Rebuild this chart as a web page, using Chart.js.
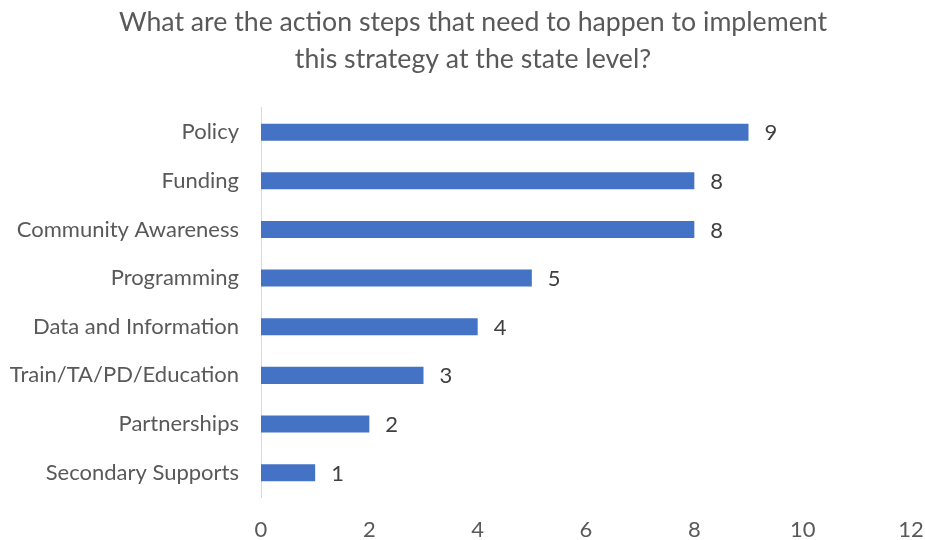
<!DOCTYPE html>
<html>
<head>
<meta charset="utf-8">
<script src="https://cdn.jsdelivr.net/npm/chart.js@4"></script>
<style>
  html, body { margin: 0; padding: 0; background: #ffffff; }
  #wrap { width: 925px; height: 540px; }
</style>
</head>
<body>
<div id="wrap"><canvas id="chart" width="925" height="540"></canvas></div>
<script>
const categories = [
  'Policy',
  'Funding',
  'Community Awareness',
  'Programming',
  'Data and Information',
  'Train/TA/PD/Education',
  'Partnerships',
  'Secondary Supports'
];
const counts = [9, 8, 8, 5, 4, 3, 2, 1];
const titleLines = [
  'What are the action steps that need to happen to implement',
  'this strategy at the state level?'
];
const xMin = 0, xMax = 12, xStep = 2;

const FONT = 'Lato, "Open Sans", sans-serif';

// Writes each bar's value just past its end
const valueLabels = {
  id: 'valueLabels',
  afterDatasetsDraw(chart) {
    const ctx = chart.ctx;
    const meta = chart.getDatasetMeta(0);
    ctx.save();
    ctx.font = '22px ' + FONT;
    ctx.fillStyle = '#404040';
    ctx.textAlign = 'left';
    ctx.textBaseline = 'middle';
    meta.data.forEach((bar, i) => {
      ctx.fillText(String(counts[i]), bar.x + 16, bar.y + 1);
    });
    ctx.restore();
  }
};

// Centres the title over the span from just left of the labels to the canvas edge
const titleSpan = {
  id: 'titleSpan',
  afterLayout(chart) {
    if (chart.titleBlock) {
      chart.titleBlock.left = 21;
      chart.titleBlock.right = chart.width;
    }
  }
};

new Chart(document.getElementById('chart'), {
  type: 'bar',
  data: {
    labels: categories,
    datasets: [{
      data: counts,
      backgroundColor: '#4472C4',
      borderWidth: 0,
      barPercentage: 1,
      categoryPercentage: 0.35
    }]
  },
  options: {
    indexAxis: 'y',
    responsive: false,
    animation: false,
    devicePixelRatio: 1,
    layout: { padding: { left: 0, right: 14, top: 0, bottom: 0 } },
    plugins: {
      legend: { display: false },
      tooltip: { enabled: false },
      title: {
        display: true,
        text: titleLines,
        color: '#595959',
        font: { family: FONT, size: 26.7, weight: 'normal', lineHeight: 1.42 },
        padding: { top: 3, bottom: 29 }
      }
    },
    scales: {
      x: {
        min: xMin,
        max: xMax,
        grid: { display: false, drawTicks: false },
        border: { display: false },
        ticks: {
          stepSize: xStep,
          padding: 20,
          color: '#595959',
          font: { family: FONT, size: 22 }
        },
        afterFit(scale) {
          scale.height = 43;
          scale.paddingLeft = 0;
          scale.paddingRight = 0;
        }
      },
      y: {
        grid: { display: false, drawTicks: false },
        border: { display: true, color: '#D9D9D9', width: 1 },
        ticks: {
          padding: 22,
          color: '#595959',
          font: { family: FONT, size: 22 }
        },
        afterFit(scale) {
          scale.width = 261;
          scale.paddingTop = 0;
          scale.paddingBottom = 0;
        }
      }
    }
  },
  plugins: [valueLabels, titleSpan]
});
</script>
</body>
</html>
